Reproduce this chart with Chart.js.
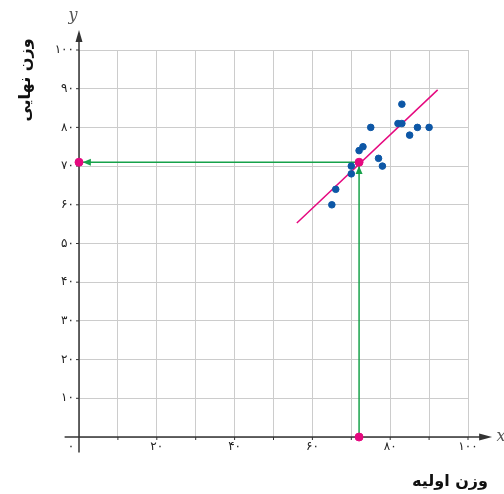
<!DOCTYPE html>
<html>
<head>
<meta charset="utf-8">
<script src="https://cdn.jsdelivr.net/npm/chart.js@4"></script>
<style>
  html, body { margin: 0; padding: 0; background: #fff; }
  #wrap { width: 504px; height: 494px; }
</style>
</head>
<body>
<div id="wrap"><canvas id="weightChart" width="504" height="494"></canvas></div>
<script>
// داده‌های نمودار: وزن اولیه و وزن نهایی
const initialWeight = [65, 66, 70, 70, 72, 73, 75, 77, 78, 82, 83, 83, 85, 87, 90];
const finalWeight = [60, 64, 68, 70, 74, 75, 80, 72, 70, 81, 81, 86, 78, 80, 80];

// خط برازش
const trendX = [56, 92.2];
const trendY = [55.3, 89.7];

// نقطه‌ی تخمین
const estimateX = 72;
const estimateY = 71;

// خطوط راهنمای سبز
const guideUpX = [72, 72];
const guideUpY = [0, 70];
const guideLeftX = [72, 1];
const guideLeftY = [71, 71];

const xTicks = [0, 20, 40, 60, 80, 100];
const yTicks = [10, 20, 30, 40, 50, 60, 70, 80, 90, 100];

const xTitle = 'وزن اولیه';
const yTitle = 'وزن نهایی';

const BLUE = '#0d57a6';
const PINK = '#e5097f';
const GREEN = '#17a24a';
const AXIS = '#333333';

function toFa(n) {
    return String(n).replace(/\d/g, d => '۰۱۲۳۴۵۶۷۸۹'[d]);
}

function pts(xs, ys) {
    return xs.map((x, i) => ({ x: x, y: ys[i] }));
}

function arrowHead(ctx, x, y, dx, dy, len, half, color) {
    ctx.save();
    ctx.fillStyle = color;
    ctx.beginPath();
    ctx.moveTo(x, y);
    ctx.lineTo(x - dx * len - dy * half, y - dy * len + dx * half);
    ctx.lineTo(x - dx * len + dy * half, y - dy * len - dx * half);
    ctx.closePath();
    ctx.fill();
    ctx.restore();
}

const axesPlugin = {
    id: 'axesPlugin',
    beforeDatasetsDraw(chart) {
        const ctx = chart.ctx;
        const xs = chart.scales.x, ys = chart.scales.y;
        const x0 = xs.getPixelForValue(0), y0 = ys.getPixelForValue(0);

        ctx.save();
        ctx.strokeStyle = AXIS;
        ctx.lineWidth = 1.5;
        // محور x
        ctx.beginPath();
        ctx.moveTo(xs.getPixelForValue(-3.7), y0);
        ctx.lineTo(xs.getPixelForValue(104), y0);
        ctx.stroke();
        // محور y
        ctx.beginPath();
        ctx.moveTo(x0, ys.getPixelForValue(-4));
        ctx.lineTo(x0, ys.getPixelForValue(103.5));
        ctx.stroke();

        // تیک‌ها
        ctx.lineWidth = 1;
        for (let v = 10; v <= 100; v += 10) {
            const px = xs.getPixelForValue(v);
            ctx.beginPath();
            ctx.moveTo(px, y0);
            ctx.lineTo(px, y0 + 3);
            ctx.stroke();
            const py = ys.getPixelForValue(v);
            ctx.beginPath();
            ctx.moveTo(x0 - 3, py);
            ctx.lineTo(x0, py);
            ctx.stroke();
        }
        ctx.restore();

        arrowHead(ctx, xs.getPixelForValue(106.2), y0, 1, 0, 13, 3.5, AXIS);
        arrowHead(ctx, x0, ys.getPixelForValue(105.2), 0, -1, 12, 3.5, AXIS);

        // سر پیکان‌های سبز
        arrowHead(ctx, xs.getPixelForValue(guideUpX[1]), ys.getPixelForValue(guideUpY[1]), 0, -1, 8, 3.5, GREEN);
        arrowHead(ctx, xs.getPixelForValue(guideLeftX[1]), ys.getPixelForValue(guideLeftY[1]), -1, 0, 8, 3.5, GREEN);
    },
    afterDraw(chart) {
        const ctx = chart.ctx;
        const xs = chart.scales.x, ys = chart.scales.y;
        const x0 = xs.getPixelForValue(0), y0 = ys.getPixelForValue(0);

        ctx.save();
        ctx.fillStyle = '#222';
        ctx.font = '12px "DejaVu Sans"';
        ctx.textBaseline = 'middle';

        ctx.textAlign = 'right';
        yTicks.forEach(v => {
            ctx.fillText(toFa(v), x0 - 5, ys.getPixelForValue(v));
        });

        ctx.textAlign = 'center';
        xTicks.forEach(v => {
            const px = v === 0 ? x0 - 8 : xs.getPixelForValue(v);
            ctx.fillText(toFa(v), px, y0 + 10);
        });

        // نام محورها (حرف لاتین)
        ctx.font = 'italic 16px "DejaVu Serif"';
        ctx.fillStyle = '#555';
        ctx.textAlign = 'left';
        ctx.fillText('x', xs.getPixelForValue(107.3), y0);
        ctx.textAlign = 'center';
        ctx.fillText('y', x0 - 6, ys.getPixelForValue(108.7));

        // عنوان‌های فارسی
        ctx.fillStyle = '#111';
        ctx.font = 'bold 16px "DejaVu Sans"';
        ctx.direction = 'rtl';
        ctx.textAlign = 'center';
        ctx.fillText(xTitle, 450, 482);

        ctx.save();
        ctx.translate(26, 80);
        ctx.rotate(-Math.PI / 2);
        ctx.fillText(yTitle, 0, 0);
        ctx.restore();
        ctx.restore();
    }
};

new Chart(document.getElementById('weightChart'), {
    type: 'scatter',
    data: {
        datasets: [
            {
                label: 'تخمین',
                data: [
                    { x: estimateX, y: estimateY },
                    { x: estimateX, y: 0 },
                    { x: 0, y: estimateY }
                ],
                backgroundColor: PINK,
                borderColor: PINK,
                pointRadius: 4,
                clip: false,
                order: 0
            },
            {
                label: 'داده‌ها',
                data: pts(initialWeight, finalWeight),
                backgroundColor: BLUE,
                borderColor: BLUE,
                pointRadius: 3.3,
                clip: false,
                order: 1
            },
            {
                label: 'خط برازش',
                type: 'line',
                data: pts(trendX, trendY),
                borderColor: PINK,
                borderWidth: 1.5,
                pointRadius: 0,
                clip: false,
                order: 2
            },
            {
                label: 'راهنما ۱',
                type: 'line',
                data: pts(guideUpX, guideUpY),
                borderColor: GREEN,
                borderWidth: 1.5,
                pointRadius: 0,
                clip: false,
                order: 3
            },
            {
                label: 'راهنما ۲',
                type: 'line',
                data: pts(guideLeftX, guideLeftY),
                borderColor: GREEN,
                borderWidth: 1.5,
                pointRadius: 0,
                clip: false,
                order: 3
            }
        ]
    },
    options: {
        responsive: false,
        animation: false,
        layout: { padding: { left: 79, right: 36, top: 50, bottom: 57 } },
        plugins: {
            legend: { display: false },
            tooltip: { enabled: false }
        },
        scales: {
            x: {
                type: 'linear',
                min: 0,
                max: 100,
                ticks: { stepSize: 10, display: false },
                grid: { color: '#cccccc', lineWidth: 1, drawTicks: false },
                border: { display: false },
                afterFit: s => { s.height = 0; }
            },
            y: {
                type: 'linear',
                min: 0,
                max: 100,
                ticks: { stepSize: 10, display: false },
                grid: { color: '#cccccc', lineWidth: 1, drawTicks: false },
                border: { display: false },
                afterFit: s => { s.width = 0; }
            }
        }
    },
    plugins: [axesPlugin]
});
</script>
</body>
</html>
